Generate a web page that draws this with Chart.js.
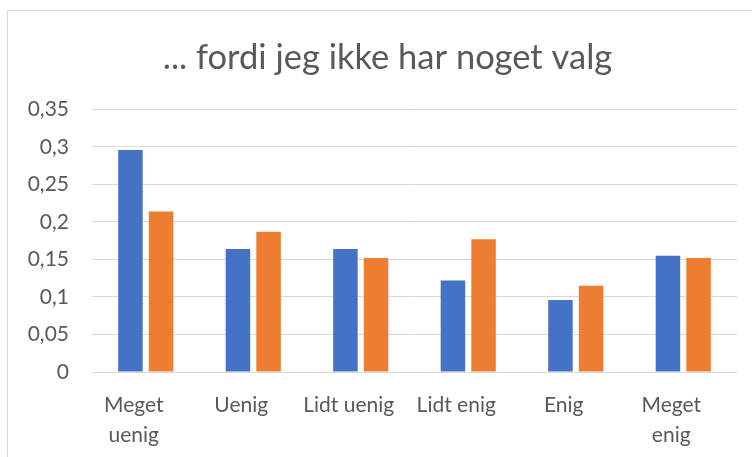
<!DOCTYPE html>
<html>
<head>
<meta charset="utf-8">
<script src="https://cdn.jsdelivr.net/npm/chart.js@4"></script>
<style>
  body { margin: 0; background: #fff; overflow: hidden; }
  /* the card runs past the right edge of the window, as in the reference */
  #wrap {
    position: absolute; left: 7px; top: 10px;
    width: 759px; height: 446px;
    border-left: 1px solid #d9d9d9; border-top: 1px solid #d9d9d9;
  }
</style>
</head>
<body>
<div id="wrap"><canvas id="chart"></canvas></div>
<script>
const categories = [['Meget', 'uenig'], 'Uenig', 'Lidt uenig', 'Lidt enig', 'Enig', ['Meget', 'enig']];
const seriesA = [0.296, 0.164, 0.164, 0.122, 0.096, 0.155];
const seriesB = [0.214, 0.187, 0.152, 0.177, 0.115, 0.152];
const yTickLabels = ['0', '0,05', '0,1', '0,15', '0,2', '0,25', '0,3', '0,35'];

const font = 'Lato, "Open Sans", sans-serif';

const ctx = document.getElementById('chart').getContext('2d');
new Chart(ctx, {
    type: 'bar',
    data: {
        labels: categories,
        datasets: [{
            label: 'A',
            data: seriesA,
            backgroundColor: '#4472c4',
            categoryPercentage: 0.57,
            barPercentage: 0.8
        }, {
            label: 'B',
            data: seriesB,
            backgroundColor: '#ed7d31',
            categoryPercentage: 0.57,
            barPercentage: 0.8
        }]
    },
    options: {
        responsive: true,
        maintainAspectRatio: false,
        animation: false,
        layout: { padding: 0 },
        plugins: {
            legend: { display: false },
            tooltip: { enabled: false },
            title: {
                display: true,
                text: '... fordi jeg ikke har noget valg',
                color: '#595959',
                font: { family: font, size: 34.5, weight: 'normal', lineHeight: 1.2 },
                padding: { top: 26, bottom: 31 }
            }
        },
        scales: {
            x: {
                grid: { display: false, drawTicks: false },
                border: { display: false },
                ticks: {
                    color: '#595959',
                    font: { family: font, size: 21, lineHeight: 1.45 },
                    padding: 18,
                    labelOffset: -12,
                    maxRotation: 0
                },
                afterFit: function(scale) { scale.height = 85; }
            },
            y: {
                min: 0,
                max: 0.35,
                grid: { color: '#d9d9d9', lineWidth: 1, drawTicks: false },
                border: { display: false },
                ticks: {
                    stepSize: 0.05,
                    color: '#595959',
                    font: { family: font, size: 21 },
                    padding: 23,
                    callback: (value, index) => yTickLabels[index]
                },
                afterFit: function(scale) { scale.width = 84; }
            },
            // empty right axis, only to leave a margin right of the plot
            spacer: {
                position: 'right',
                grid: { display: false, drawTicks: false },
                border: { display: false },
                ticks: { display: false },
                afterFit: function(scale) { scale.width = 30; }
            }
        }
    }
});
</script>
</body>
</html>
